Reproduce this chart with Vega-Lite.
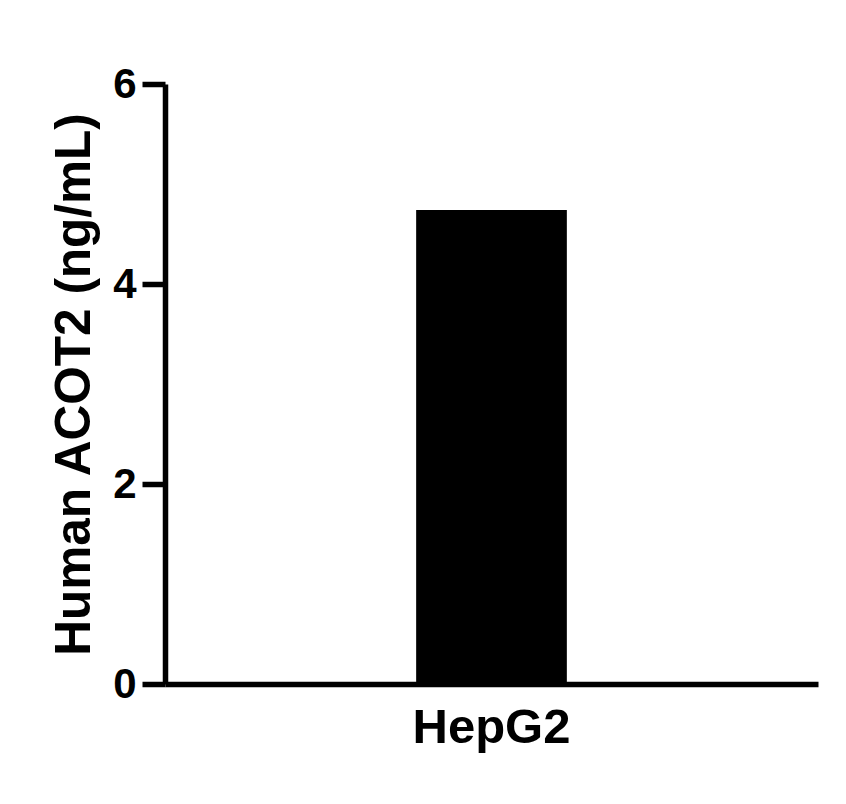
{
  "$schema": "https://vega.github.io/schema/vega-lite/v6.json",
  "autosize": {"type": "none"},
  "width": 653,
  "height": 600,
  "padding": {"left": 165, "top": 84, "right": 28, "bottom": 120},
  "background": "white",
  "config": {
    "view": {"stroke": null},
    "font": "Liberation Sans",
    "axis": {
      "grid": false,
      "domainColor": "black",
      "domainWidth": 5.5,
      "tickColor": "black",
      "tickWidth": 5.5,
      "labelColor": "black",
      "titleColor": "black",
      "labelFont": "Liberation Sans",
      "titleFont": "Liberation Sans",
      "labelFontWeight": "bold",
      "titleFontWeight": "bold"
    }
  },
  "data": {"values": [{"cell": "HepG2", "value": 4.74}]},
  "mark": {"type": "bar", "color": "black"},
  "encoding": {
    "x": {
      "field": "cell",
      "type": "nominal",
      "scale": {"paddingInner": 0.4, "paddingOuter": 1},
      "axis": {
        "title": null,
        "labelAngle": 0,
        "labelFontSize": 49,
        "ticks": false,
        "labelPadding": 19
      }
    },
    "y": {
      "field": "value",
      "type": "quantitative",
      "scale": {"domain": [0, 6], "nice": false},
      "axis": {
        "title": "Human ACOT2 (ng/mL)",
        "values": [0, 2, 4, 6],
        "tickSize": 23,
        "labelFontSize": 42,
        "labelPadding": 6,
        "titleFontSize": 49.5,
        "titlePadding": 13
      }
    }
  }
}
